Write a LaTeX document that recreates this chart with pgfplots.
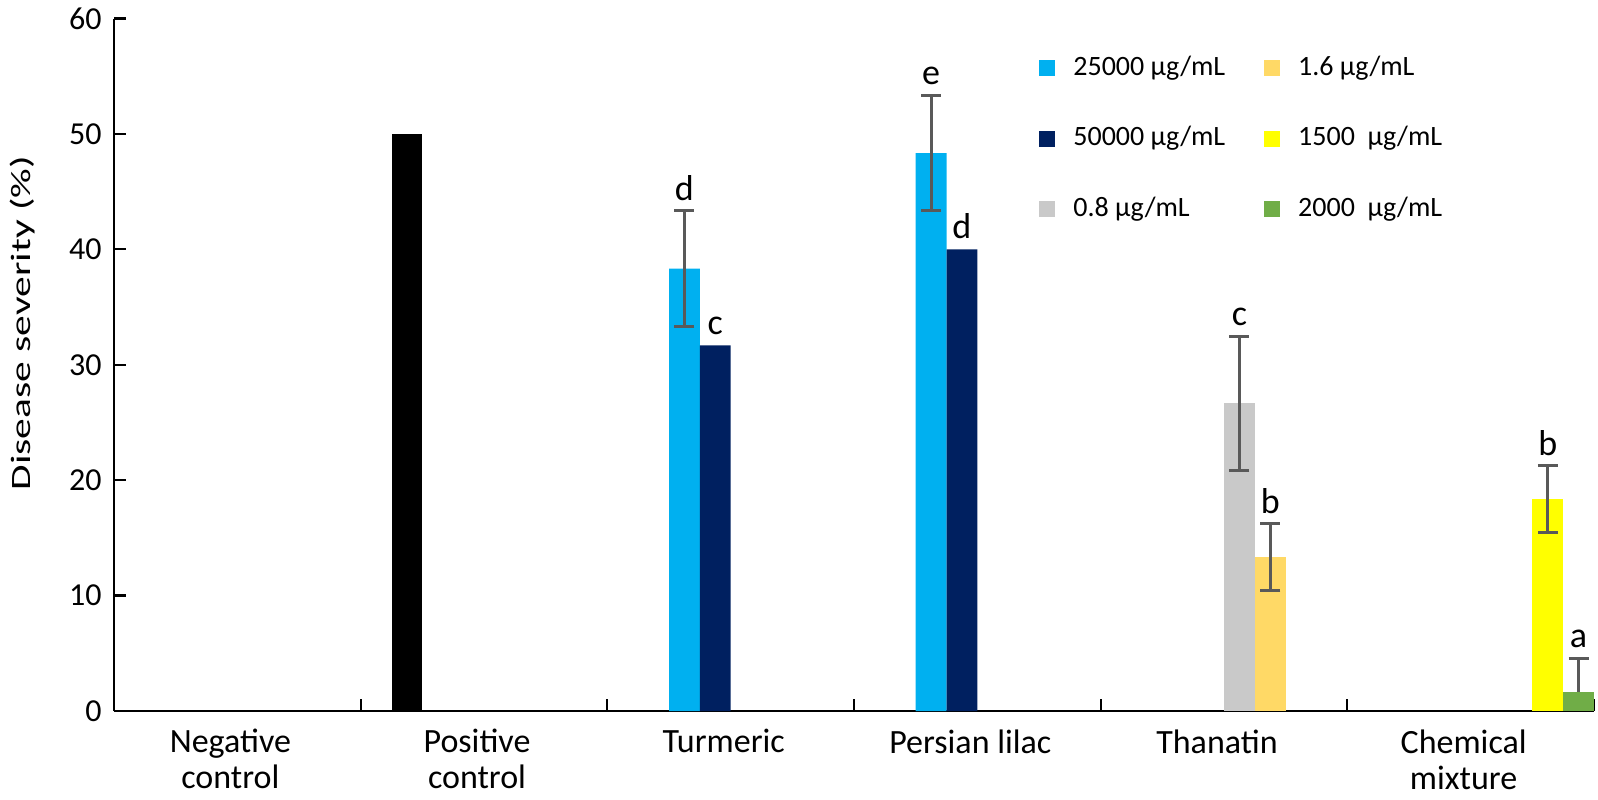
\documentclass[border=0pt]{standalone}
\usepackage{pgfplots}
\pgfplotsset{compat=1.18}
\usepackage{pgfplotstable}
\usepackage{fontspec}
\setmainfont{Carlito}
\usepackage{graphicx}

\definecolor{cCyan}{HTML}{00B0F0}
\definecolor{cNavy}{HTML}{002060}
\definecolor{cGray}{HTML}{C9C9C9}
\definecolor{cOrange}{HTML}{FFD966}
\definecolor{cYellow}{HTML}{FFFF00}
\definecolor{cGreen}{HTML}{70AD47}
\definecolor{errgray}{HTML}{595959}

% x = category index + (series+1.5)/8
\pgfplotstableread{
x y
1.1875 50.00
}\blackdata
\pgfplotstableread{
x y err
2.3125 38.33 5.0
3.3125 48.33 5.0
}\cyandata
\pgfplotstableread{
x y
2.4375 31.67
3.4375 40.00
}\navydata
\pgfplotstableread{
x y err
4.5625 26.67 5.8
}\graydata
\pgfplotstableread{
x y err
4.6875 13.33 2.9
}\orangedata
\pgfplotstableread{
x y err
5.8125 18.33 2.9
}\yellowdata
\pgfplotstableread{
x y err
5.9375 1.67 2.9
}\greendata
\pgfplotstableread{
x top lab
2.3125 43.33 d
3.3125 53.33 e
2.4375 31.67 c
3.4375 40.00 d
4.5625 32.47 c
4.6875 16.23 b
5.8125 21.23 b
5.9375 4.57 a
}\letters

\pgfplotsset{
  mybar/.style={ybar, bar width=0.125, bar shift=0pt, draw=none,
    legend image code/.code={\fill[##1,draw=none] (0pt,-4pt) rectangle (8pt,4pt);}},
  myerr/.style={error bars/.cd, y dir=#1, y explicit,
    error bar style={line width=1.5pt, color=errgray},
    error mark options={rotate=90, mark size=5pt, line width=1.5pt, color=errgray}},
}

\begin{document}
\begin{tikzpicture}
\begin{axis}[
  at={(0,0)}, anchor=south west,
  width=740pt, height=346.25pt, scale only axis,
  xmin=0, xmax=6, ymin=0, ymax=60,
  axis x line=bottom, axis y line=left,
  axis line style={-, line width=1.1pt},
  every tick/.style={black, line width=1.1pt},
  tick align=inside, major tick length=6pt,
  ytick={0,10,...,60},
  xtick={1,...,6}, xticklabels={},
  extra x ticks={0.5,1.5,...,5.5},
  extra x tick labels={Negative\\control, Positive\\control, Turmeric, Persian lilac, Thanatin, Chemical\\mixture},
  extra x tick style={major tick length=0pt, tick style={draw=none}},
  xticklabel style={font=\fontsize{17}{18}\selectfont, align=center, anchor=north, inner sep=0pt, yshift=-9pt, xshift=-3.5pt},
  yticklabel style={font=\fontsize{16}{18}\selectfont, xshift=-2.7pt},
  /pgf/number format/assume math mode=true,
  ylabel={\scalebox{1.48}[1]{Disease severity (\%)}},
  ylabel style={font=\fontsize{14}{16}\selectfont, at={(axis description cs:-0.0615,0.56)}, anchor=center},
  legend columns=3, transpose legend,
  legend style={draw=none, fill=none, at={(axis description cs:0.625,1)}, anchor=north west,
    yshift=-18.25pt, font=\fontsize{14}{16}\selectfont, inner sep=0pt, row sep=22.25pt,
    cells={anchor=west}, nodes={inner sep=0pt, text height=10pt, text depth=3pt},
    /tikz/every odd column/.append style={column sep=9pt},
    /tikz/every even column/.append style={column sep=19.5pt}},
]
\addplot[mybar, fill=black, forget plot] table[x=x, y=y] {\blackdata};
\addplot[mybar, fill=cCyan, myerr=both] table[x=x, y=y, y error=err] {\cyandata};
\addlegendentry{25000 µg/mL}
\addplot[mybar, fill=cNavy] table[x=x, y=y] {\navydata};
\addlegendentry{50000 µg/mL}
\addplot[mybar, fill=cGray, myerr=both] table[x=x, y=y, y error=err] {\graydata};
\addlegendentry{0.8 µg/mL}
\addplot[mybar, fill=cOrange, myerr=both] table[x=x, y=y, y error=err] {\orangedata};
\addlegendentry{1.6 µg/mL}
\addplot[mybar, fill=cYellow, myerr=both] table[x=x, y=y, y error=err] {\yellowdata};
\addlegendentry{1500~ µg/mL}
\addplot[mybar, fill=cGreen, myerr=plus] table[x=x, y=y, y error=err] {\greendata};
\addlegendentry{2000~ µg/mL}
\addplot[only marks, mark=none, forget plot, nodes near coords, point meta=explicit symbolic,
  nodes near coords style={font=\fontsize{18}{19}\selectfont, anchor=south, inner sep=0pt, yshift=5pt}]
  table[x=x, y=top, meta=lab] {\letters};
\end{axis}
\pgfresetboundingbox
\path (-57pt,-44pt) rectangle (742pt,355.5pt);
\end{tikzpicture}
\end{document}
